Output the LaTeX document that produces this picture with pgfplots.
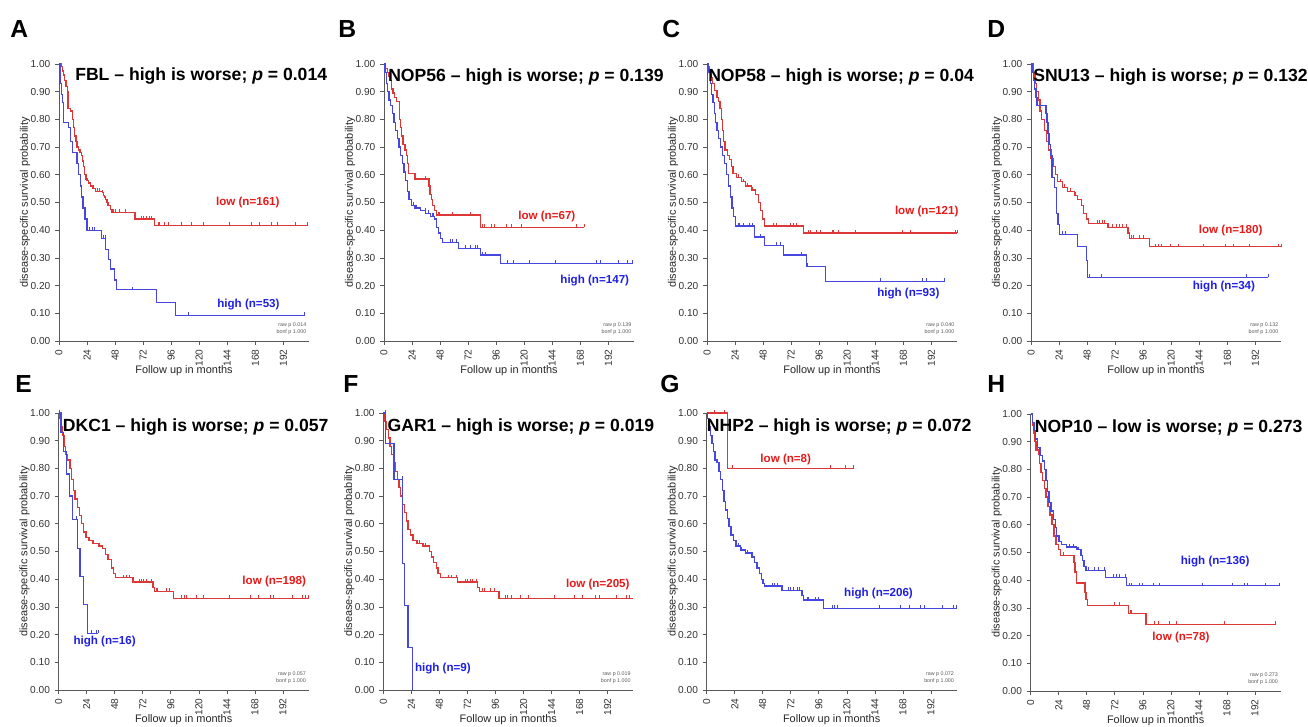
\documentclass[border=0pt]{standalone}
\usepackage{fontspec}
\setmainfont{Liberation Sans}
\usepackage{pgfplots}
\pgfplotsset{compat=1.18}
\definecolor{redline}{RGB}{222,55,55}
\definecolor{redtext}{RGB}{232,25,25}
\definecolor{blueline}{RGB}{70,70,225}
\definecolor{bluetext}{RGB}{30,30,232}
\pgfdeclareplotmark{cens}{\pgfpathmoveto{\pgfpointorigin}\pgfpathlineto{\pgfpoint{0pt}{\pgfplotmarksize}}\pgfusepathqstroke}
\pgfplotsset{km/.style={
  anchor=south west, scale only axis, width=187.5pt, height=207.75pt,
  xmin=0, xmax=214, ymin=0, ymax=1,
  axis x line*=bottom, axis y line*=left,
  axis line style={black!65, line width=0.5pt, -},
  every tick/.style={black!65, line width=0.5pt},
  tick align=outside, major tick length=3pt,
  xtick={0,24,48,72,96,120,144,168,192},
  ytick={0,0.1,0.2,0.3,0.4,0.5,0.6,0.7,0.8,0.9,1},
  /pgf/number format/assume math mode=true,
  yticklabel style={/pgf/number format/.cd, fixed, fixed zerofill, precision=2},
  ticklabel style={font=\fontsize{7.6}{8}\selectfont, text=black!80},
  xticklabel style={rotate=90, anchor=east},
  xlabel={Follow up in months}, ylabel={disease-specific survival probability},
  label style={font=\fontsize{8.2}{9}\selectfont, text=black!85},
  xlabel style={at={(axis description cs:0.5,-0.108)}, anchor=center},
  ylabel style={at={(axis description cs:-0.136,0.5)}, anchor=center},
  clip=false,
},
rl/.style={redline, line width=0.95pt, const plot, mark=none},
bl/.style={blueline, line width=0.95pt, const plot, mark=none},
rc/.style={redline, line width=0.7pt, only marks, mark=cens, mark size=2.4pt},
bc/.style={blueline, line width=0.7pt, only marks, mark=cens, mark size=2.4pt},
}
\tikzset{
 ttl/.style={anchor=west, inner sep=0pt, font=\bfseries\fontsize{13.2}{14}\selectfont},
 lab/.style={inner sep=0pt, font=\bfseries\fontsize{8.7}{9}\selectfont},
 rawp/.style={anchor=east, inner sep=0pt, align=right, font=\fontsize{4}{5.6}\selectfont, text=black!65},
 letter/.style={anchor=base west, inner sep=0pt, font=\bfseries\fontsize{18.5}{20}\selectfont},
}
\begin{document}
\begin{tikzpicture}
\path[use as bounding box] (0pt,0pt) rectangle (981pt,544.5pt);
\node[letter] at (7.5pt,516pt) {A};
\node[letter] at (253.5pt,516pt) {B};
\node[letter] at (496.5pt,516pt) {C};
\node[letter] at (740.25pt,516pt) {D};
\node[letter] at (11.25pt,250.5pt) {E};
\node[letter] at (257.25pt,250.5pt) {F};
\node[letter] at (495pt,250.5pt) {G};
\node[letter] at (740.25pt,250.5pt) {H};

% ---------------- A ----------------
\begin{axis}[km, at={(44.25pt,288.75pt)}]
\addplot[rl] coordinates {(0,1)(2,0.99)(3,0.975)(4,0.96)(5,0.94)(6,0.92)(7,0.90)(7.7,0.84)(9.7,0.83)(11.5,0.80)(12.5,0.77)(13.5,0.74)(14.5,0.72)(15.4,0.70)(17,0.69)(18,0.68)(19,0.67)(20,0.65)(21,0.63)(22,0.60)(23,0.585)(24,0.58)(25,0.57)(27,0.56)(29,0.55)(31,0.54)(37,0.535)(38,0.525)(39,0.52)(40,0.51)(41,0.50)(42,0.49)(44,0.475)(45,0.465)(65,0.44)(82,0.418)(213,0.418)};
\addplot[rc] coordinates {(27,0.56)(29,0.55)(33,0.54)(35,0.54)(37,0.535)(46,0.465)(47,0.465)(48,0.465)(52,0.465)(57,0.465)(70.6,0.44)(72.6,0.44)(74.9,0.44)(77.1,0.44)(79.1,0.44)(85,0.418)(86,0.418)(90,0.418)(94,0.418)(105,0.418)(113,0.418)(124,0.418)(146,0.418)(165,0.418)(172,0.418)(182,0.418)(187,0.418)(202,0.418)(213,0.418)};
\addplot[bl] coordinates {(0,1)(1.5,0.93)(2.3,0.89)(3,0.86)(4,0.79)(8.3,0.77)(10,0.72)(11.7,0.68)(15.4,0.64)(17,0.60)(18.3,0.56)(19.4,0.52)(20.6,0.48)(22.3,0.44)(24,0.40)(36.3,0.37)(40,0.33)(42.3,0.295)(44.3,0.26)(47.7,0.22)(49.1,0.185)(83.4,0.138)(100,0.092)(209.7,0.092)};
\addplot[bc] coordinates {(26.3,0.40)(28.6,0.40)(30.6,0.40)(38.3,0.37)(39.4,0.37)(63,0.185)(111,0.092)(209.7,0.092)};
\node[ttl] at (rel axis cs:0.064,0.957) {FBL -- high is worse; \textit{p} = 0.014};
\node[lab, anchor=east, text=redtext] at (axis cs:189,0.50) {low (n=161)};
\node[lab, anchor=east, text=bluetext] at (axis cs:189,0.133) {high (n=53)};
\node[rawp] at (rel axis cs:0.99,0.044) {raw p 0.014\\bonf p 1.000};
\end{axis}

% ---------------- B ----------------
\begin{axis}[km, at={(288pt,288.75pt)}]
\addplot[rl] coordinates {(0,1)(1.4,0.985)(2.8,0.97)(4.3,0.955)(5,0.94)(6.3,0.91)(7.7,0.895)(9,0.88)(10.8,0.865)(13.4,0.80)(14,0.77)(15,0.74)(16.2,0.71)(17.9,0.69)(19,0.67)(20.2,0.64)(20.8,0.605)(26.5,0.585)(38.4,0.56)(39.4,0.53)(40.4,0.51)(41.8,0.49)(43.5,0.47)(45,0.455)(82.5,0.41)(171.5,0.41)};
\addplot[rc] coordinates {(35.5,0.585)(47,0.455)(47.8,0.455)(58.9,0.455)(73.9,0.455)(84.5,0.41)(85.9,0.41)(91.6,0.41)(94.4,0.41)(105.2,0.41)(108.9,0.41)(118,0.41)(165,0.41)(171.5,0.41)};
\addplot[bl] coordinates {(0,1)(0.9,0.97)(2,0.93)(3.1,0.90)(4.3,0.87)(5.7,0.85)(7.1,0.82)(8.5,0.79)(10,0.76)(11.4,0.73)(12.8,0.70)(14.2,0.67)(15.6,0.64)(17.1,0.61)(18.5,0.58)(20.2,0.54)(21.3,0.51)(23.6,0.49)(26.5,0.48)(31.3,0.47)(35.6,0.46)(39.8,0.45)(43.5,0.44)(45,0.41)(46.9,0.39)(48.4,0.37)(49.8,0.355)(64,0.335)(82.5,0.31)(99.5,0.28)(213.3,0.28)};
\addplot[bc] coordinates {(25.6,0.49)(27.6,0.48)(35.5,0.47)(38.4,0.46)(41.2,0.45)(42.7,0.45)(56.9,0.355)(58.9,0.355)(62,0.355)(69.7,0.335)(73.9,0.335)(78.2,0.335)(80.2,0.335)(83.9,0.31)(86.7,0.31)(105.8,0.28)(110.9,0.28)(124.6,0.28)(146.5,0.28)(182,0.28)(185.7,0.28)(200.5,0.28)(208.5,0.28)(212.7,0.28)};
\node[ttl] at (rel axis cs:0.016,0.953) {NOP56 -- high is worse; \textit{p} = 0.139};
\node[lab, anchor=east, text=redtext] at (axis cs:164,0.448) {low (n=67)};
\node[lab, anchor=east, text=bluetext] at (axis cs:210,0.219) {high (n=147)};
\node[rawp] at (rel axis cs:0.99,0.044) {raw p 0.139\\bonf p 1.000};
\end{axis}

% ---------------- C ----------------
\begin{axis}[km, at={(530.25pt,288.75pt)}]
\addplot[rl] coordinates {(0,1)(1.2,0.99)(2.3,0.97)(3.5,0.95)(4.9,0.93)(6.3,0.905)(8.6,0.88)(10,0.865)(11.2,0.84)(12.1,0.80)(13.2,0.76)(14.4,0.72)(15.5,0.69)(17.3,0.67)(19.3,0.655)(20.7,0.63)(22.2,0.605)(25,0.59)(29.4,0.575)(32.8,0.56)(38,0.545)(41.7,0.53)(43.8,0.50)(45.8,0.47)(47.2,0.44)(48.9,0.415)(82.6,0.39)(214,0.39)};
\addplot[rc] coordinates {(27,0.59)(31,0.575)(35,0.56)(39,0.545)(56.7,0.415)(59.6,0.415)(71.1,0.415)(74,0.415)(76.9,0.415)(86.9,0.39)(88.4,0.39)(94.1,0.39)(97,0.39)(107.1,0.39)(108.5,0.39)(112.3,0.39)(126.7,0.39)(167.5,0.39)(173.9,0.39)(212.7,0.39)(214,0.39)};
\addplot[bl] coordinates {(0,1)(1.2,0.97)(2.9,0.93)(4,0.89)(5.2,0.86)(6.3,0.82)(7.2,0.79)(8.6,0.76)(10,0.73)(11.5,0.70)(13,0.67)(15,0.64)(16.4,0.60)(18.4,0.56)(19.9,0.52)(21.3,0.48)(22.7,0.45)(24.2,0.415)(40.9,0.375)(49.5,0.345)(65.3,0.31)(84.9,0.27)(101.3,0.215)(203.5,0.215)};
\addplot[bc] coordinates {(26.5,0.415)(27.9,0.415)(30.8,0.415)(36.6,0.415)(38.6,0.415)(46,0.375)(59.6,0.345)(63.3,0.345)(81.2,0.31)(86.4,0.27)(148.8,0.215)(184.2,0.215)(187.7,0.215)(203.5,0.215)};
\node[ttl] at (rel axis cs:0.004,0.953) {NOP58 -- high is worse; \textit{p} = 0.04};
\node[lab, anchor=east, text=redtext] at (axis cs:215.5,0.466) {low (n=121)};
\node[lab, anchor=east, text=bluetext] at (axis cs:199.2,0.171) {high (n=93)};
\node[rawp] at (rel axis cs:0.99,0.044) {raw p 0.040\\bonf p 1.000};
\end{axis}

% ---------------- D ----------------
\begin{axis}[km, at={(773.25pt,288.75pt)}]
\addplot[rl] coordinates {(0,1)(2,0.97)(3.4,0.93)(4.9,0.90)(6.3,0.87)(7.7,0.83)(9.2,0.80)(11.4,0.76)(13.4,0.72)(15.2,0.69)(17.2,0.66)(19.2,0.63)(20.9,0.60)(22.9,0.575)(27.2,0.555)(31.5,0.54)(37.2,0.525)(40.1,0.51)(42.9,0.49)(44.9,0.46)(47.2,0.44)(49.5,0.425)(65.8,0.41)(83,0.39)(84.4,0.37)(101.6,0.34)(214,0.34)};
\addplot[rc] coordinates {(25,0.575)(29,0.555)(34,0.54)(38,0.525)(57.2,0.425)(58.7,0.425)(60.9,0.425)(62.9,0.425)(70.1,0.41)(73,0.41)(75.8,0.41)(78.7,0.41)(81.5,0.41)(85.8,0.37)(87.3,0.37)(93,0.37)(96.4,0.37)(106.7,0.34)(108.7,0.34)(111.6,0.34)(119.3,0.34)(126.5,0.34)(147.9,0.34)(166.8,0.34)(173.7,0.34)(187.4,0.34)(211.7,0.34)(214,0.34)};
\addplot[bl] coordinates {(0,1)(1.4,0.97)(2.3,0.94)(3.1,0.91)(4.3,0.88)(5.2,0.85)(12.9,0.82)(13.7,0.79)(14.6,0.75)(15.5,0.71)(16.6,0.67)(18,0.59)(20,0.555)(21.5,0.46)(23,0.42)(24.5,0.385)(40.1,0.34)(47.2,0.29)(48.6,0.23)(203.1,0.23)};
\addplot[bc] coordinates {(27.2,0.385)(29.5,0.385)(50.1,0.23)(60.1,0.23)(184,0.23)(203.1,0.23)};
\node[ttl] at (rel axis cs:0.008,0.953) {SNU13 -- high is worse; \textit{p} = 0.132};
\node[lab, anchor=east, text=redtext] at (axis cs:198.3,0.399) {low (n=180)};
\node[lab, anchor=east, text=bluetext] at (axis cs:192,0.195) {high (n=34)};
\node[rawp] at (rel axis cs:0.99,0.044) {raw p 0.132\\bonf p 1.000};
\end{axis}

% ---------------- E ----------------
\begin{axis}[km, at={(44pt,27pt)}]
\addplot[rl] coordinates {(0,1)(1.1,0.98)(2.3,0.95)(3.4,0.92)(4.8,0.88)(6,0.85)(7.7,0.83)(9.7,0.80)(11.1,0.76)(12.5,0.72)(13.9,0.69)(15.9,0.66)(17.6,0.63)(19.6,0.60)(21,0.57)(23.3,0.55)(25.3,0.54)(29.5,0.53)(33.8,0.52)(37.5,0.51)(40.3,0.49)(42.3,0.47)(45.2,0.44)(47.1,0.42)(48.8,0.405)(63.6,0.39)(80.7,0.37)(82,0.355)(98.3,0.33)(214,0.33)};
\addplot[rc] coordinates {(26,0.54)(30,0.53)(35,0.52)(55.7,0.405)(57.9,0.405)(60.8,0.405)(69.3,0.39)(70.7,0.39)(72.7,0.39)(75,0.39)(79.2,0.39)(83.5,0.355)(84.9,0.355)(92,0.355)(94.9,0.355)(104.8,0.33)(107.6,0.33)(109.6,0.33)(117.6,0.33)(123.8,0.33)(146,0.33)(164.4,0.33)(171,0.33)(181.5,0.33)(183.5,0.33)(199.9,0.33)(208.5,0.33)(211.3,0.33)(214,0.33)};
\addplot[bl] coordinates {(0,1)(2,0.93)(4,0.86)(6.8,0.78)(9.1,0.70)(11.9,0.615)(15.9,0.51)(18.2,0.41)(21,0.31)(24.4,0.205)(33.8,0.205)};
\addplot[bc] coordinates {(0.5,1)(15.5,0.615)(28.1,0.205)(32.4,0.205)(33.8,0.205)};
\node[ttl] at (rel axis cs:0.016,0.949) {DKC1 -- high is worse; \textit{p} = 0.057};
\node[lab, anchor=east, text=redtext] at (axis cs:211.9,0.391) {low (n=198)};
\node[lab, anchor=west, text=bluetext] at (axis cs:12.5,0.174) {high (n=16)};
\node[rawp] at (rel axis cs:0.99,0.044) {raw p 0.057\\bonf p 1.000};
\end{axis}

% ---------------- F ----------------
\begin{axis}[km, at={(287.5pt,27pt)}]
\addplot[rl] coordinates {(0,1)(1.4,0.97)(2.8,0.94)(4.2,0.91)(5.7,0.88)(7.1,0.85)(8.5,0.82)(10.5,0.79)(11.9,0.76)(13.3,0.73)(14.7,0.70)(16.4,0.67)(18.4,0.64)(19.8,0.61)(21.2,0.58)(23.2,0.56)(25.5,0.54)(28.9,0.53)(34,0.52)(39.6,0.50)(41.1,0.48)(43,0.46)(45.3,0.44)(46.7,0.42)(49,0.405)(63.2,0.39)(80.7,0.37)(82.1,0.355)(99.1,0.33)(214,0.33)};
\addplot[rc] coordinates {(26,0.54)(31,0.53)(36,0.52)(55.8,0.405)(58.1,0.405)(62.9,0.405)(70.2,0.39)(72.2,0.39)(74.2,0.39)(76.5,0.39)(79.3,0.39)(85,0.355)(86.4,0.355)(92,0.355)(94.9,0.355)(104.2,0.33)(106.2,0.33)(109.9,0.33)(117.5,0.33)(124,0.33)(146.7,0.33)(163.7,0.33)(170.5,0.33)(181.3,0.33)(184.7,0.33)(199.7,0.33)(208.2,0.33)(211,0.33)};
\addplot[bl] coordinates {(0,1)(2,0.889)(9.1,0.76)(16.5,0.456)(18.4,0.305)(21,0.154)(24.8,0)};
\addplot[bc] coordinates {(1.4,1)(16,0.76)};
\node[ttl] at (rel axis cs:0.016,0.949) {GAR1 -- high is worse; \textit{p} = 0.019};
\node[lab, anchor=east, text=redtext] at (axis cs:211,0.380) {low (n=205)};
\node[lab, anchor=west, text=bluetext] at (axis cs:26.9,0.076) {high (n=9)};
\node[rawp] at (rel axis cs:0.99,0.044) {raw p 0.019\\bonf p 1.000};
\end{axis}

% ---------------- G ----------------
\begin{axis}[km, at={(530pt,27pt)}]
\addplot[rl] coordinates {(0,1)(18,0.80)(126,0.80)};
\addplot[rc] coordinates {(6.3,1)(15.2,1)(22,0.8)(106,0.8)(118.9,0.8)(126,0.8)};
\addplot[bl] coordinates {(0,1)(0.9,0.98)(2,0.95)(3.2,0.92)(4.6,0.89)(6,0.86)(7.2,0.83)(8.9,0.82)(10.6,0.79)(12,0.76)(13.5,0.72)(14.9,0.68)(16.3,0.65)(18.1,0.62)(19.2,0.59)(20.9,0.56)(22.9,0.54)(25.2,0.52)(28.7,0.505)(33,0.495)(38.7,0.48)(40.7,0.46)(43,0.44)(45,0.42)(46.7,0.40)(48.1,0.385)(49.6,0.375)(64.5,0.36)(81.7,0.34)(83.1,0.325)(100.3,0.295)(214,0.295)};
\addplot[bc] coordinates {(7,0.83)(9,0.82)(27,0.52)(30,0.505)(35,0.495)(55.9,0.375)(57.9,0.375)(61,0.375)(70.2,0.36)(71.6,0.36)(74.5,0.36)(77.4,0.36)(79.4,0.36)(86,0.325)(87.4,0.325)(93.1,0.325)(96,0.325)(107.4,0.295)(109.5,0.295)(111.7,0.295)(147.6,0.295)(166.2,0.295)(173.4,0.295)(183.4,0.295)(186.2,0.295)(202,0.295)(211.5,0.295)(214,0.295)};
\node[ttl] at (rel axis cs:0.0,0.949) {NHP2 -- high is worse; \textit{p} = 0.072};
\node[lab, anchor=west, text=redtext] at (axis cs:45.8,0.833) {low (n=8)};
\node[lab, anchor=west, text=bluetext] at (axis cs:117.5,0.347) {high (n=206)};
\node[rawp] at (rel axis cs:0.99,0.044) {raw p 0.072\\bonf p 1.000};
\end{axis}

% ---------------- H ----------------
\begin{axis}[km, at={(773pt,26.25pt)}]
\addplot[rl] coordinates {(0,1)(1.7,0.96)(2.8,0.93)(3.7,0.90)(4.6,0.87)(6.6,0.855)(7.4,0.82)(8.8,0.79)(10.3,0.76)(11.7,0.73)(13.1,0.70)(14.8,0.665)(16.5,0.635)(18.2,0.60)(19.9,0.56)(21.7,0.53)(23.6,0.51)(25.6,0.49)(37,0.465)(37.9,0.43)(39.3,0.39)(46.4,0.355)(47.3,0.33)(48.4,0.31)(83.5,0.28)(98.6,0.24)(209.4,0.24)};
\addplot[rc] coordinates {(5.5,0.87)(27.9,0.49)(72.1,0.31)(76.4,0.31)(85.5,0.28)(86.3,0.28)(106.3,0.24)(109.7,0.24)(118.5,0.24)(124.8,0.24)(165.5,0.24)(209.4,0.24)};
\addplot[bl] coordinates {(0,1)(1.7,0.97)(2.8,0.94)(4,0.91)(5.7,0.88)(8,0.85)(10.3,0.83)(11.7,0.80)(13.1,0.76)(14.2,0.72)(15.7,0.68)(17.4,0.65)(19.4,0.62)(21.1,0.59)(22.2,0.56)(24.2,0.54)(26.5,0.53)(30.8,0.52)(39.3,0.51)(43,0.49)(44.2,0.47)(45.6,0.45)(47.3,0.435)(64.1,0.41)(82,0.38)(213.1,0.38)};
\addplot[bc] coordinates {(33.6,0.52)(36.5,0.52)(39.9,0.51)(40.7,0.51)(47.9,0.435)(49.3,0.435)(55,0.435)(58.4,0.435)(63.5,0.435)(70.7,0.41)(73.5,0.41)(76.4,0.41)(81.2,0.41)(84.9,0.38)(86.3,0.38)(93.4,0.38)(95.4,0.38)(105.4,0.38)(110.5,0.38)(147,0.38)(172.6,0.38)(182.6,0.38)(185.5,0.38)(201.1,0.38)(213.1,0.38)};
\node[ttl] at (rel axis cs:0.016,0.949) {NOP10 -- low is worse; \textit{p} = 0.273};
\node[lab, anchor=east, text=bluetext] at (axis cs:187.5,0.467) {high (n=136)};
\node[lab, anchor=east, text=redtext] at (axis cs:153.3,0.194) {low (n=78)};
\node[rawp] at (rel axis cs:0.99,0.044) {raw p 0.273\\bonf p 1.000};
\end{axis}
\end{tikzpicture}
\end{document}
